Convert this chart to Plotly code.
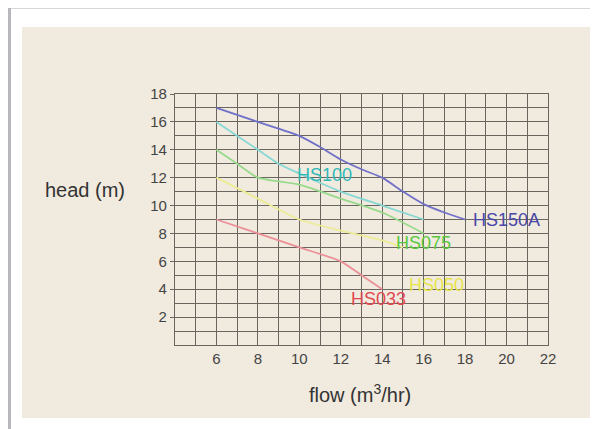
import plotly.graph_objects as go

# Data
hs150a_x = [6, 8, 10, 11, 12, 13, 14, 15, 16, 17, 18]
hs150a_y = [17, 16, 15, 14.2, 13.3, 12.6, 12, 11, 10.1, 9.5, 9]
hs100_x = [6, 8, 9, 10, 12, 14, 16]
hs100_y = [16, 14, 13, 12.3, 11, 10, 9]
hs075_x = [6, 7, 8, 10, 12, 14, 16]
hs075_y = [14, 13, 12, 11.5, 10.5, 9.5, 8]
hs050_x = [6, 8, 10, 12, 14, 15]
hs050_y = [12, 10.5, 9, 8.2, 7.5, 7]
hs033_x = [6, 8, 10, 12, 13, 14]
hs033_y = [9, 8, 7, 6, 5, 4]

series_names = ["HS150A", "HS100", "HS075", "HS050", "HS033"]
label_x = [20, 11.2, 16.0, 16.6, 13.8]
label_y = [9.0, 12.2, 7.3, 4.3, 3.3]

x_tick_vals = [6, 8, 10, 12, 14, 16, 18, 20, 22]
y_tick_vals = [2, 4, 6, 8, 10, 12, 14, 16, 18]

line_colors = ["#7070c8", "#86d8d4", "#98da8c", "#ecec96", "#ec9098"]
label_colors = ["#4848a8", "#30b8b8", "#58c840", "#e6e44a", "#e04850"]

xs = [hs150a_x, hs100_x, hs075_x, hs050_x, hs033_x]
ys = [hs150a_y, hs100_y, hs075_y, hs050_y, hs033_y]

font_family = "Liberation Sans, Arial"

# figure is drawn inside an 8px page margin
W, H = 590, 421
L, T = 167, 86
PW, PH = 373, 251


def px(xf):
    return (xf - L) / PW


def py(yf):
    return (T + PH - yf) / PH


fig = go.Figure()
for name, x, y, c in zip(series_names, xs, ys, line_colors):
    fig.add_trace(go.Scatter(x=x, y=y, mode="lines", name=name,
                             line=dict(color=c, width=1.8, shape="spline", smoothing=0.6),
                             showlegend=False))

for name, lx, ly, c in zip(series_names, label_x, label_y, label_colors):
    fig.add_annotation(x=lx, y=ly, text=name, showarrow=False,
                       font=dict(family=font_family, size=18, color=c))

grid_c = "#6a655f"

fig.update_layout(
    width=W, height=H,
    margin=dict(l=L, r=W - L - PW, t=T, b=H - T - PH),
    paper_bgcolor="white",
    plot_bgcolor="#f4efe7",
    font=dict(family=font_family, color="#3a3a3a", size=15),
    shapes=[
        dict(type="rect", xref="paper", yref="paper", layer="below",
             x0=px(14), x1=px(582), y0=py(410), y1=py(19),
             fillcolor="#f1eadf", line=dict(width=0)),
        dict(type="line", xref="paper", yref="paper",
             x0=px(0), x1=px(W), y0=py(0.5), y1=py(0.5),
             line=dict(color="#d8d8dc", width=1)),
        dict(type="line", xref="paper", yref="paper",
             x0=px(1.5), x1=px(1.5), y0=py(0), y1=py(H),
             line=dict(color="#b8b8bc", width=3)),
    ],
    xaxis=dict(range=[4, 22], tickvals=x_tick_vals, showgrid=True,
               gridcolor=grid_c, gridwidth=1.3,
               minor=dict(dtick=1, tick0=0, showgrid=True, gridcolor=grid_c, gridwidth=1.3),
               showline=True, linecolor=grid_c, linewidth=1.3, mirror=True, zeroline=False,
               ticks="", tickfont=dict(size=15, color="#444")),
    yaxis=dict(range=[0, 18], tickvals=y_tick_vals, showgrid=True,
               gridcolor=grid_c, gridwidth=1.3,
               minor=dict(dtick=1, tick0=0, showgrid=True, gridcolor=grid_c, gridwidth=1.3),
               showline=True, linecolor=grid_c, linewidth=1.3, mirror=True, zeroline=False,
               ticks="outside", ticklen=4, tickcolor=grid_c,
               tickfont=dict(size=15, color="#444")),
)

fig.add_annotation(xref="paper", yref="paper", x=px(35), y=py(182),
                   xanchor="left", yanchor="middle", text="head (m)", showarrow=False,
                   font=dict(family=font_family, size=20, color="#333"))
fig.add_annotation(xref="paper", yref="paper", x=px(352), y=py(385),
                   xanchor="center", yanchor="middle", text="flow (m<sup>3</sup>/hr)",
                   showarrow=False,
                   font=dict(family=font_family, size=20, color="#333"))

fig.write_html("out.html")
